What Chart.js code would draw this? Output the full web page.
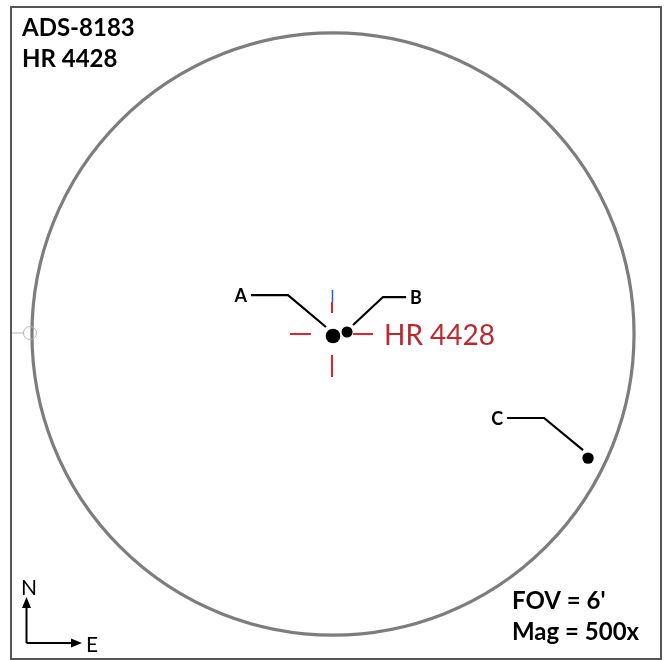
<!DOCTYPE html>
<html lang="en">
  <head>
    <meta charset="UTF-8" />
    <title>ADS-8183 / HR 4428</title>
    <script src="https://cdn.jsdelivr.net/npm/chart.js@4"></script>
    <style>
      body { margin: 0; background: #fff; }
      #wrap { width: 669px; height: 660px; position: relative; }
    </style>
  </head>
  <body>
    <div id="wrap"><canvas id="myChart"></canvas></div>

    <script>
      // offsets from the crosshair, in arcseconds (north up)
      const starNames = ['A', 'B', 'C'];
      const starX = [0.6, 9.0, 153.1];
      const starY = [-1.2, 1.2, -74.2];

      // leader lines: star end -> elbow -> label end
      const leaderA = [[-3.6, 4.2], [-26.3, 23.3], [-48.4, 23.3]];
      const leaderB = [[12.6, 5.4], [30.5, 22.1], [44.3, 22.1]];
      const leaderC = [[150.1, -69.4], [126.8, -50.2], [104.7, -50.2]];

      // crosshair arms [x1, y1, x2, y2]
      const crossArms = [
        [-25.1, 0, -12.6, 0],
        [12.6, 0, 24.5, 0],
        [0, 19.1, 0, 12.6],
        [0, -12.6, 0, -25.7]
      ];

      const fovCenter = [0.6, 0];
      const fovRadius = 180; // 6' field -> 3' radius
      const targetName = 'HR 4428';
      const targetLabelAt = [30.5, 0];
      const titleLines = ['ADS-8183', 'HR 4428'];
      const infoLines = ["FOV = 6'", 'Mag = 500x'];

      const toXY = pts => pts.map(p => ({ x: p[0], y: p[1] }));

      const lineSet = (pts, color, width) => ({
        type: 'line',
        data: toXY(pts),
        showLine: true,
        borderColor: color,
        borderWidth: width,
        pointRadius: 0,
        fill: false,
        tension: 0
      });

      const datasets = [];
      datasets.push(lineSet(leaderA, '#000', 2.2));
      datasets.push(lineSet(leaderB, '#000', 2.2));
      datasets.push(lineSet(leaderC, '#000', 2.2));
      crossArms.forEach(a => datasets.push(lineSet([[a[0], a[1]], [a[2], a[3]]], '#e8202a', 2)));
      // blue tip on top arm
      datasets.push(lineSet([[0.3, 26.3], [0.3, 19.1]], '#1f5fbf', 1.5));
      datasets.push({
        type: 'scatter',
        data: starX.map((x, i) => ({ x: x, y: starY[i] })),
        pointRadius: [7.3, 5.5, 5.7],
        pointBackgroundColor: '#000',
        pointBorderWidth: 0
      });

      const deco = {
        id: 'deco',
        beforeDatasetsDraw(chart) {
          const c = chart.ctx, xs = chart.scales.x, ys = chart.scales.y;
          const cx = xs.getPixelForValue(fovCenter[0]);
          const cy = ys.getPixelForValue(fovCenter[1]);
          const r = xs.getPixelForValue(fovCenter[0] + fovRadius) - cx;
          c.save();
          c.strokeStyle = '#7d7d7d';
          c.lineWidth = 3.2;
          c.beginPath();
          c.arc(cx, cy, r, 0, Math.PI * 2);
          c.stroke();
          // small marker on left edge
          c.strokeStyle = '#b5b5b5';
          c.lineWidth = 1;
          c.beginPath();
          c.arc(30, 333, 6.5, 0, Math.PI * 2);
          c.moveTo(12, 333);
          c.lineTo(23.5, 333);
          c.stroke();
          c.restore();
        },
        afterDraw(chart) {
          const c = chart.ctx, xs = chart.scales.x, ys = chart.scales.y;
          c.save();
          // frame
          c.strokeStyle = '#555';
          c.lineWidth = 2;
          c.strokeRect(11, 7, 650, 652);

          c.fillStyle = '#000';
          c.font = 'bold 24px Lato';
          c.textBaseline = 'alphabetic';
          c.textAlign = 'left';
          c.fillText(titleLines[0], 22, 36);
          c.fillText(titleLines[1], 22, 67);
          c.fillText(infoLines[0], 512, 609);
          c.fillText(infoLines[1], 512, 640);

          // star labels
          c.font = 'bold 18px Lato';
          c.textBaseline = 'middle';
          const ends = [leaderA[2], leaderB[2], leaderC[2]];
          ends.forEach((p, i) => {
            const px = xs.getPixelForValue(p[0]), py = ys.getPixelForValue(p[1]);
            const left = p[0] < starX[i];
            c.textAlign = left ? 'right' : 'left';
            c.fillText(starNames[i], px + (left ? -4 : 4), py + 1);
          });

          // target name
          c.fillStyle = '#c0272d';
          c.font = '28px Lato';
          c.textAlign = 'left';
          c.textBaseline = 'alphabetic';
          c.fillText(targetName, xs.getPixelForValue(targetLabelAt[0]) + 1,
            ys.getPixelForValue(targetLabelAt[1]) + 11);

          // compass
          c.fillStyle = '#000';
          c.strokeStyle = '#000';
          c.lineWidth = 2;
          c.beginPath();
          c.moveTo(26.5, 643);
          c.lineTo(26.5, 605);
          c.moveTo(26.5, 643);
          c.lineTo(74, 643);
          c.stroke();
          c.beginPath();
          c.moveTo(26.5, 597); c.lineTo(22, 608); c.lineTo(31, 608); c.closePath();
          c.moveTo(82, 643); c.lineTo(71, 638.5); c.lineTo(71, 647.5); c.closePath();
          c.fill();
          c.font = '21px Lato';
          c.textAlign = 'left';
          c.fillText('N', 21, 595);
          c.fillText('E', 86, 652);
          c.restore();
        }
      };

      new Chart(document.getElementById('myChart'), {
        type: 'scatter',
        data: { datasets: datasets },
        options: {
          responsive: true,
          maintainAspectRatio: false,
          animation: false,
          layout: { padding: 0, autoPadding: false },
          plugins: { legend: { display: false }, tooltip: { enabled: false } },
          scales: {
            x: { type: 'linear', min: -198.5, max: 201.5, display: false },
            y: { type: 'linear', min: -194.9, max: 199.7, display: false }
          },
          elements: { line: { borderCapStyle: 'butt' } }
        },
        plugins: [deco]
      });
    </script>
  </body>
</html>
